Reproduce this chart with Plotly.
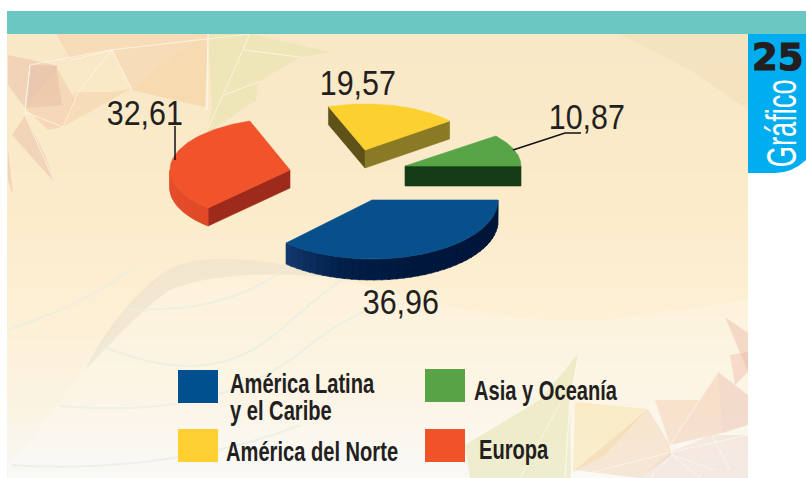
import json
import numpy as np
import plotly.graph_objects as go

# ---------- data ----------
categories = ["América Latina<br>y el Caribe", "Europa", "América del Norte", "Asia y Oceanía"]
values = [36.96, 32.61, 19.57, 10.87]

# ---------- styles / geometry (separate from the data) ----------
top_colors = ["#07508c", "#f1532b", "#fcd02e", "#58a548"]
swatch_colors = ["#00508f", "#f15329", "#ffd030", "#57a345"]
FONT = "Liberation Sans, sans-serif"
INK = "#231f20"
# centre x, centre y, radius x, radius y, height for each slice
geom = [(372, 200, 126, 59, 21), (290, 170, 120, 52, 18), (365, 150, 109, 46, 18), (405, 166, 116, 48, 20)]
radial_colors = ["#0a2c5c", "#9e2a1b", None, "#163c16"]
wall_stops = [
    [(0, "#001538"), (70, "#00173c"), (105, "#02204a"), (133, "#14396f")],
    [(133, "#e04a28"), (180, "#e8502c")],
    [(0, "#000000"), (180, "#000000")],
    [(0, "#000000"), (180, "#000000")],
]
label_pos = [(401, 301), (145, 112), (358, 82), (587, 116)]
legend_boxes = [(178, 370), (425, 429), (178, 429), (425, 369)]
legend_text_pos = [(228, 384), (477, 450), (224, 452), (472, 391)]
LEGEND_LINE = 27


def hexrgb(c):
    return np.array([int(c[i:i + 2], 16) for i in (1, 3, 5)], float)


def lerp_color(stops, t):
    for (a, ca), (b, cb) in zip(stops, stops[1:]):
        if a <= t <= b:
            f = (t - a) / (b - a) if b > a else 0
            r = hexrgb(ca) * (1 - f) + hexrgb(cb) * f
            return "#%02x%02x%02x" % tuple(int(round(v)) for v in r)
    return stops[-1][1]


def poly(x, y, color, line=0.6):
    return go.Scatter(x=list(x) + [x[0]], y=list(y) + [y[0]], mode="lines", fill="toself",
                      fillcolor=color, line=dict(color=color, width=line),
                      hoverinfo="skip", showlegend=False)


fig = go.Figure()

# slice angles come straight from the values
shares = np.array(values) / sum(values) * 360
starts = np.concatenate([[0], np.cumsum(shares)[:-1]])

draw_order = [2, 3, 1, 0]
for i in draw_order:
    cx, cy, rx, ry, h = geom[i]
    a0, a1 = starts[i], starts[i] + shares[i]
    am = np.radians((a0 + a1) / 2)
    mx, my = rx * np.cos(am), ry * np.sin(am)
    # radial faces, only where they face the viewer
    for k, edge in enumerate((a0, a1)):
        t = np.radians(edge)
        ex, ey = rx * np.cos(t), ry * np.sin(t)
        if abs(ex) < 1e-6:
            continue
        if my < ey / ex * mx:
            col = radial_colors[i]
            if i == 2:
                col = "#5e5218" if k == 0 else "#8a7a25"
            fig.add_trace(poly([cx, cx + ex, cx + ex, cx], [cy, cy + ey, cy + ey + h, cy + h], col))
    # outer wall: front half of the rim, in gradient strips
    lo, hi = max(a0, 0), min(a1, 180)
    if hi > lo:
        edges = np.linspace(lo, hi, 40)
        for s, e in zip(edges, edges[1:]):
            th = np.radians(np.linspace(s, min(e + 0.6, hi), 5))
            px = cx + rx * np.cos(th)
            py = cy + ry * np.sin(th)
            fig.add_trace(poly(list(px) + list(px[::-1]), list(py) + list(py[::-1] + h),
                               lerp_color(wall_stops[i], (s + e) / 2)))
    # top surface
    th = np.radians(np.linspace(a0, a1, 80))
    fig.add_trace(poly([cx] + list(cx + rx * np.cos(th)), [cy] + list(cy + ry * np.sin(th)), top_colors[i]))

# leader lines
fig.add_trace(go.Scatter(x=[175, 175], y=[126, 160], mode="lines", line=dict(color="#111", width=1.5),
                         hoverinfo="skip", showlegend=False))
fig.add_trace(go.Scatter(x=[513, 565, 581], y=[150, 133, 133], mode="lines", line=dict(color="#111", width=1.5),
                         hoverinfo="skip", showlegend=False))

# ---------- background shapes ----------
shapes = []


def rect(x0, y0, x1, y1, color, layer="below"):
    shapes.append(dict(type="rect", x0=x0, y0=y0, x1=x1, y1=y1, fillcolor=color, line_width=0, layer=layer))


def pg(points, color):
    d = "M" + " L".join(f"{x},{y}" for x, y in points) + " Z"
    shapes.append(dict(type="path", path=d, fillcolor=color, line_width=0, layer="below"))


def wl(points, width=1.0, color="rgba(255,250,240,0.7)"):
    d = "M" + " L".join(f"{x},{y}" for x, y in points)
    shapes.append(dict(type="path", path=d, line=dict(color=color, width=width), layer="below"))


bg_stops = [(34, "#f8e8c6"), (200, "#fbebca"), (300, "#fdefd3"), (400, "#fbf3e1"), (450, "#f9f6ee"), (478, "#f8f8f6")]
for y in range(34, 478, 6):
    rect(7, y, 748, y + 6.5, lerp_color(bg_stops, y + 3))

# top right darker corner
pg([(620, 34), (748, 34), (748, 110), (690, 70)], "rgba(235,215,175,0.30)")

# mountain curve
shapes.append(dict(type="path",
                   path="M 8,465 C 60,410 110,320 165,272 C 195,250 270,258 340,278 C 430,305 540,330 620,318 "
                        "C 680,310 720,305 748,298 L 748,478 L 8,478 Z",
                   fillcolor="rgba(255,255,250,0.22)", line_width=0, layer="below"))
shapes.append(dict(type="path",
                   path="M 85,370 C 110,320 140,290 165,272 C 195,250 270,258 340,278 C 280,272 210,272 170,290 "
                        "C 140,310 110,345 85,370 Z",
                   fillcolor="rgba(215,205,180,0.28)", line_width=0, layer="below"))
for path in ["M 100,345 C 170,375 230,375 280,330 C 320,295 340,280 350,275",
             "M 60,406 C 130,412 230,412 310,345 C 340,320 370,310 385,300",
             "M 125,309 C 180,312 240,305 290,265",
             "M 12,465 C 80,470 200,465 300,425",
             "M 8,330 C 50,315 90,300 130,270"]:
    shapes.append(dict(type="path", path=path, line=dict(color="rgba(232,238,225,0.75)", width=2), layer="below"))

# faceted decoration, top left
orange = "rgba(244,205,165,0.42)"
peach = "rgba(240,190,160,0.40)"
pink = "rgba(232,180,165,0.42)"
lemon = "rgba(228,226,170,0.50)"
pg([(55, 34), (68, 60), (112, 50), (132, 90), (205, 107), (208, 34)], orange)
pg([(132, 90), (175, 55), (208, 34), (205, 107)], "rgba(247,215,165,0.50)")
pg([(208, 34), (250, 34), (330, 52), (300, 57), (258, 82), (256, 100), (205, 135), (212, 110)], lemon)
pg([(8, 55), (58, 66), (25, 108), (8, 85)], pink)
pg([(30, 65), (56, 66), (62, 105), (25, 108)], "rgba(226,190,165,0.50)")
pg([(25, 108), (56, 66), (75, 100), (63, 127), (48, 130)], peach)
pg([(25, 115), (45, 155), (55, 183), (12, 135), (22, 120)], pink)
pg([(75, 92), (115, 92), (132, 88), (63, 127)], "rgba(245,200,160,0.40)")
pg([(8, 150), (13, 195), (8, 180)], pink)
wl([(30, 65), (110, 50), (250, 34)])
wl([(55, 34), (70, 60), (112, 50), (132, 90)])
wl([(25, 108), (30, 65), (25, 115), (55, 183)])
wl([(25, 112), (63, 127), (78, 92), (112, 50)])
wl([(208, 34), (207, 110)], 1.5)
wl([(250, 34), (205, 135)])
wl([(245, 50), (300, 57)])
wl([(224, 95), (258, 82)])

# faceted decoration, bottom right
pg([(579, 353), (540, 400), (465, 445), (470, 478), (571, 478), (570, 400)], lemon)
pg([(575, 402), (648, 409), (605, 455), (573, 472)], "rgba(248,225,165,0.50)")
pg([(648, 409), (670, 445), (672, 455), (640, 478), (575, 470)], "rgba(240,205,170,0.42)")
pg([(655, 400), (700, 400), (718, 372), (670, 445)], "rgba(242,195,160,0.38)")
pg([(670, 445), (718, 372), (722, 433)], peach)
pg([(718, 372), (748, 395), (748, 425), (722, 433)], pink)
pg([(725, 317), (748, 333), (748, 372)], pink)
pg([(730, 355), (748, 352), (748, 372), (735, 385)], "rgba(240,180,165,0.42)")
pg([(670, 452), (712, 435), (748, 435), (748, 478), (640, 478)], "rgba(235,205,195,0.35)")
wl([(570, 478), (672, 452), (748, 435)])
wl([(718, 372), (670, 445), (672, 455), (700, 478)])
wl([(650, 478), (672, 455), (715, 470)])
wl([(565, 478), (570, 400), (579, 353)], 1.5)
wl([(520, 478), (560, 403)])
wl([(712, 435), (730, 470)])

# ---------- frame pieces ----------
rect(7, 11, 806, 34, "#6ac7c2", layer="above")
shapes.append(dict(type="path", path="M 748,34 L 806,34 L 806,160 Q 792,173 775,173 L 748,173 Z",
                   fillcolor="#00aeef", line_width=0, layer="below"))
shapes.append(dict(type="path", path="M 775,173 A 27,27 0 1 1 806,125",
                   line=dict(color="rgba(255,255,255,0.35)", width=0.7), layer="below"))

# legend swatches
for (x, y), col in zip(legend_boxes, swatch_colors):
    rect(x, y, x + 40, y + 33, col, layer="above")

# ---------- text ----------
ann = []
squeeze = {}   # text -> horizontal squeeze and anchor, to imitate the condensed typeface
for v, (x, y) in zip(values, label_pos):
    txt = f"{v:.2f}".replace(".", ",")
    squeeze[txt] = [0.87, "c"]
    ann.append(dict(x=x, y=y, text=txt, showarrow=False, xanchor="center", yanchor="middle",
                    font=dict(family=FONT, size=35, color=INK)))
for cat, (x, y) in zip(categories, legend_text_pos):
    for j, part in enumerate(cat.split("<br>")):
        squeeze[part] = [0.745, "l"]
        ann.append(dict(x=x, y=y + j * LEGEND_LINE, text=f"<b>{part}</b>", showarrow=False, xanchor="left",
                        yanchor="middle", align="left", font=dict(family=FONT, size=27, color=INK)))
ann.append(dict(x=778, y=57, text="<b>25</b>", showarrow=False, xanchor="center", yanchor="middle",
                font=dict(family="DejaVu Sans", size=37, color=INK)))
squeeze["Gráfico"] = [0.65, "c"]
ann.append(dict(x=781, y=124, text="Gráfico", showarrow=False, textangle=-90, xanchor="center", yanchor="middle",
                font=dict(family=FONT, size=42, color="#ffffff")))

fig.update_layout(
    width=806, height=478, margin=dict(l=0, r=0, t=0, b=0), autosize=False,
    paper_bgcolor="#ffffff", plot_bgcolor="rgba(0,0,0,0)", showlegend=False,
    xaxis=dict(range=[0, 806], visible=False, fixedrange=True),
    yaxis=dict(range=[478, 0], visible=False, fixedrange=True),
    shapes=shapes, annotations=ann,
)

post = """
document.body.style.margin = '0';
document.body.style.overflow = 'hidden';
var SQ = %s;
document.querySelectorAll('.annotation-text').forEach(function (t) {
  if (t.textContent === '25') {
    t.style.stroke = '%s';
    t.style.strokeWidth = '1.2px';
  }
  var q = SQ[t.textContent];
  if (!q) return;
  var b = t.getBBox();
  var a = q[1] === 'l' ? b.x : b.x + b.width / 2;
  var old = t.getAttribute('transform') || '';
  t.setAttribute('transform', old + ' translate(' + a + ',0) scale(' + q[0] + ',1) translate(' + (-a) + ',0)');
});
""" % (json.dumps(squeeze, ensure_ascii=False), INK)
fig.write_html("out.html", config={"displayModeBar": False}, post_script=post)
